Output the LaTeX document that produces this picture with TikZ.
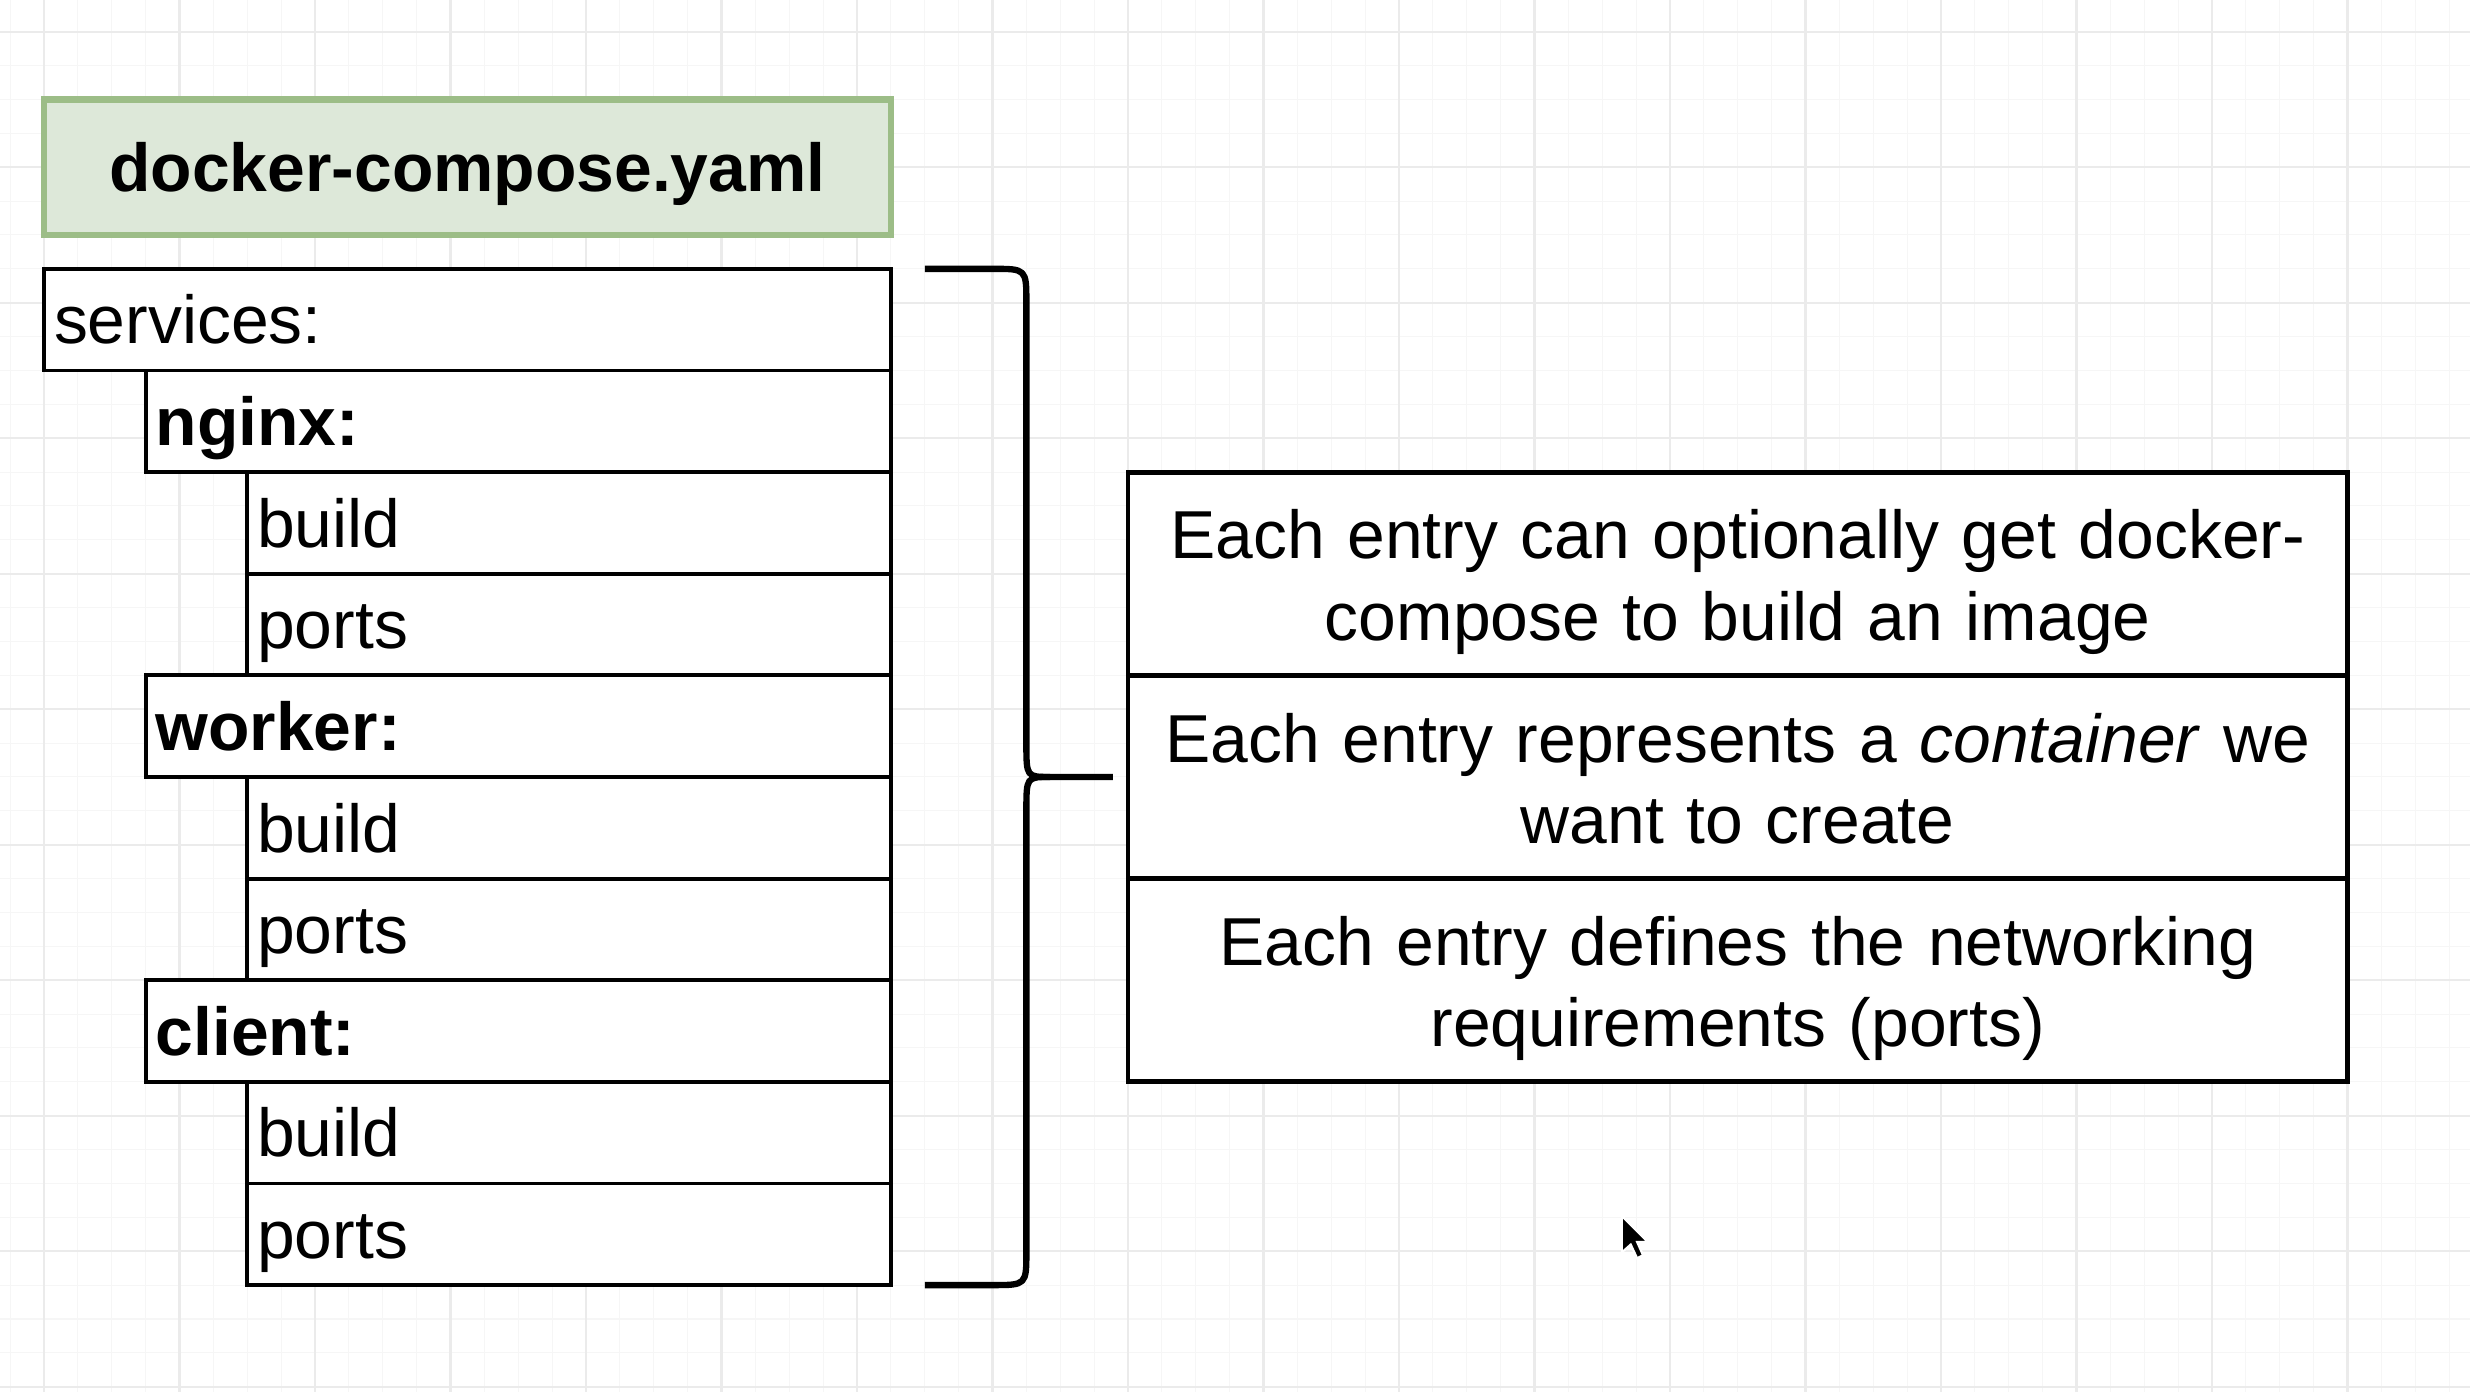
\documentclass[tikz,border=0pt]{standalone}
\usepackage{fontspec}
\setmainfont{Liberation Sans}
\usetikzlibrary{positioning,calc}
\definecolor{yamlgreen}{HTML}{DDE8D9}
\definecolor{yamlborder}{HTML}{9CBD87}
\definecolor{gridmaj}{HTML}{EBEBEB}
\definecolor{gridmin}{HTML}{F6F6F6}
\tikzset{
    every node/.style={font=\fontsize{19.3}{23.1}\selectfont},
    filebox/.style={rectangle,draw=yamlborder,fill=yamlgreen,line width=1.9pt,minimum width=8.46875cm,minimum height=1.355cm,text height=17.7pt,text depth=4.1pt,outer sep=0pt},
    keyrow/.style={rectangle,draw,fill=white,line width=1.1pt,minimum height=1.01625cm,inner xsep=0.1cm,align=left,text height=0.486cm,text depth=0cm,outer sep=0pt},
    lvlzero/.style={keyrow,text width=8.26875cm},
    lvlone/.style={keyrow,text width=7.2525cm},
    lvltwo/.style={keyrow,text width=6.23625cm},
    noterow/.style={rectangle,draw,fill=white,line width=1.4pt,minimum height=2.0325cm,inner xsep=0.1975cm,inner ysep=0pt,text width=11.8cm,align=center,outer sep=0pt,execute at begin node=\rule{0pt}{21.6pt},execute at end node=\strut},
    brace/.style={line width=1.8pt,line join=round},
    gridminor/.style={draw=gridmin,line width=0.3pt},
    gridmajor/.style={draw=gridmaj,line width=0.6pt}
}
\begin{document}
\begin{tikzpicture}[x=0.33875cm,y=-0.33875cm,node distance=0pt]
\fill[white] (-1.2989,-0.9358) rectangle (71.6162,40.1565);
\useasboundingbox (-1.2989,-0.9358) rectangle (71.6162,40.1565);
\foreach \i in {-1,...,71} \draw[gridminor] (\i,-0.94) -- (\i,40.16);
\foreach \j in {0,...,40} \draw[gridminor] (-1.3,\j) -- (71.62,\j);
\foreach \i in {0,4,...,68} \draw[gridmajor] (\i,-0.94) -- (\i,40.16);
\foreach \j in {0,4,...,40} \draw[gridmajor] (-1.3,\j) -- (71.62,\j);

\node[filebox,anchor=north west] (file) at (0,2) {\textbf{docker-compose.yaml}};
\node[lvlzero,below=0.33875cm of file.south west,anchor=north west] (services) {services:};
\node[lvlone,below=of services.south east,anchor=north east] (nginx) {\textbf{nginx:}};
\node[lvltwo,below=of nginx.south east,anchor=north east] (nginxbuild) {build};
\node[lvltwo,below=of nginxbuild] (nginxports) {ports};
\node[lvlone,below=of nginxports.south east,anchor=north east] (worker) {\textbf{worker:}};
\node[lvltwo,below=of worker.south east,anchor=north east] (workerbuild) {build};
\node[lvltwo,below=of workerbuild] (workerports) {ports};
\node[lvlone,below=of workerports.south east,anchor=north east] (client) {\textbf{client:}};
\node[lvltwo,below=of client.south east,anchor=north east] (clientbuild) {build};
\node[lvltwo,below=of clientbuild] (clientports) {ports};

\node[noterow,anchor=north west] (buildnote) at (32,13) {Each entry can optionally get docker-\\compose to build an image};
\node[noterow,below=of buildnote] (containernote) {Each entry represents a \textit{container} we\\want to create};
\node[noterow,below=of containernote] (portsnote) {Each entry defines the networking\\requirements (ports)};

\coordinate (bracetop) at ($(services.north east)+(1,0)$);
\coordinate (bracebot) at ($(clientports.south east)+(1,0)$);
\coordinate (bracetip) at ($(containernote.west)+(-0.45,0)$);
\draw[brace] (bracetop) -- (28,7) .. controls (29,7) .. (29,8) -- (29,21) .. controls (29,22) .. (29.7,22) -- (bracetip);
\draw[brace] (29.7,22) .. controls (29,22) .. (29,23) -- (29,36) .. controls (29,37) .. (28,37) -- (bracebot);

\begin{scope}[shift={(46.58,34.96)},scale=1.45]
\filldraw[fill=black,draw=white,line width=0.6pt] (0,0) -- (0,0.74) -- (0.18,0.58) -- (0.31,0.86) -- (0.43,0.8) -- (0.31,0.53) -- (0.53,0.53) -- cycle;
\end{scope}
\end{tikzpicture}
\end{document}
